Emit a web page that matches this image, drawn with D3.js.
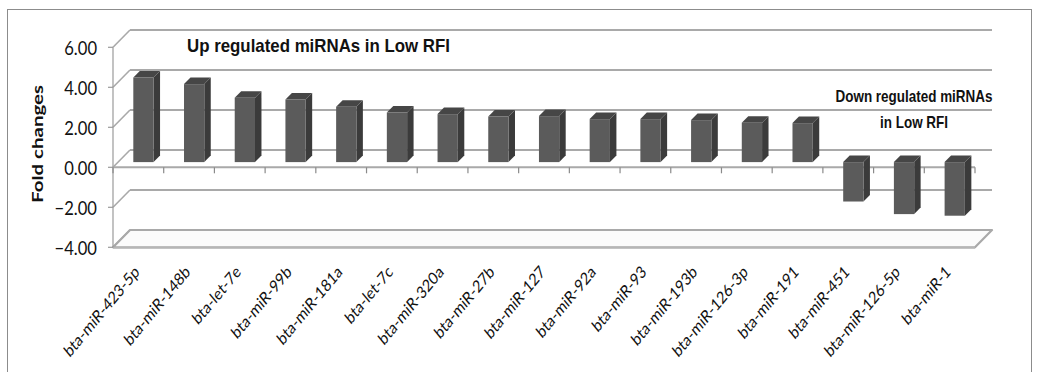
<!DOCTYPE html>
<html>
<head>
<meta charset="utf-8">
<script src="https://cdn.jsdelivr.net/npm/d3@7"></script>
<style>
  body { margin: 0; background: #fff; }
  svg { display: block; }
</style>
</head>
<body>
<svg id="chart" width="1040" height="372"></svg>
<script>
// miRNA fold changes (Low RFI vs High RFI)
const categories = [
  "bta-miR-423-5p", "bta-miR-148b", "bta-let-7e", "bta-miR-99b", "bta-miR-181a",
  "bta-let-7c", "bta-miR-320a", "bta-miR-27b", "bta-miR-127", "bta-miR-92a",
  "bta-miR-93", "bta-miR-193b", "bta-miR-126-3p", "bta-miR-191",
  "bta-miR-451", "bta-miR-126-5p", "bta-miR-1"
];
const foldChanges = [
  4.23, 3.90, 3.22, 3.13, 2.77, 2.48, 2.40, 2.28, 2.30, 2.15,
  2.15, 2.10, 1.97, 1.95, -1.97, -2.60, -2.68
];
const yTicks = [-4, -2, 0, 2, 4, 6];
const yTitle = "Fold changes";
const upTitle = "Up regulated miRNAs  in Low RFI";
const downTitle = ["Down regulated miRNAs", "in Low RFI"];

const svg = d3.select("#chart");
const SX = 0.83;               // horizontal squeeze applied to all text
const DX = 17, DY = -17.3;     // depth offset of the back wall
const F1 = 0.30, F2 = 0.68;    // bar front / back depth fractions
const left = 113, right = 975;

const y = d3.scaleLinear().domain([-4, 6]).range([247.3, 47.3]);
const x = d3.scaleBand().domain(categories).range([left, right])
  .paddingInner(0.6).paddingOuter(0.3);
const step = x.step();

const gridColor = "#a9a9a9";

// chart frame
svg.append("rect")
  .attr("x", 7.5).attr("y", 9.5).attr("width", 1024).attr("height", 400)
  .attr("fill", "none").attr("stroke", "#8c8c8c").attr("stroke-width", 1);

const walls = svg.append("g");

// floor slab
const fy = y(-4);
walls.append("polygon")
  .attr("points", [[left, fy], [right, fy], [right + DX, fy + DY], [left + DX, fy + DY]].join(" "))
  .attr("fill", "#fbfbfb").attr("stroke", gridColor).attr("stroke-width", 2.2)
  .attr("stroke-linejoin", "round");
walls.append("line")
  .attr("x1", left).attr("x2", right).attr("y1", fy + 1).attr("y2", fy + 1)
  .attr("stroke", "#c4c4c4").attr("stroke-width", 1.5);

// back-wall gridlines and side-wall diagonals
yTicks.filter(t => t > -4).forEach(t => {
  walls.append("line")
    .attr("x1", left + DX).attr("x2", right + DX)
    .attr("y1", y(t) + DY).attr("y2", y(t) + DY)
    .attr("stroke", gridColor).attr("stroke-width", 2.2);
});
yTicks.forEach(t => {
  walls.append("line")
    .attr("x1", left).attr("y1", y(t))
    .attr("x2", left + DX).attr("y2", y(t) + DY)
    .attr("stroke", gridColor).attr("stroke-width", 1.6);
});

// vertical value axis
walls.append("line")
  .attr("x1", left).attr("x2", left).attr("y1", y(6)).attr("y2", y(-4))
  .attr("stroke", "#9a9a9a").attr("stroke-width", 1.2);
yTicks.forEach(t => {
  walls.append("line")
    .attr("x1", left - 5).attr("x2", left).attr("y1", y(t)).attr("y2", y(t))
    .attr("stroke", "#9a9a9a").attr("stroke-width", 1.2);
  walls.append("text")
    .attr("transform", `translate(97,${y(t)}) scale(${SX},1)`)
    .attr("dy", "0.36em")
    .attr("text-anchor", "end")
    .attr("font-family", "Lato, 'Open Sans', sans-serif")
    .attr("font-size", 20)
    .attr("fill", "#111")
    .text(d3.format(".2f")(t));
});

// category axis at zero
walls.append("line")
  .attr("x1", left).attr("x2", right).attr("y1", y(0)).attr("y2", y(0))
  .attr("stroke", gridColor).attr("stroke-width", 2);
d3.range(categories.length + 1).forEach(k => {
  walls.append("line")
    .attr("x1", left + k * step).attr("x2", left + k * step)
    .attr("y1", y(0)).attr("y2", y(0) + 6)
    .attr("stroke", "#8a8a8a").attr("stroke-width", 1.2);
});

// 3-D columns
const pt = (px, v, f) => [px + f * DX, y(v) + f * DY];
const bars = svg.append("g");
categories.forEach((name, i) => {
  const v = foldChanges[i];
  const top = Math.max(0, v), bot = Math.min(0, v);
  const x0 = x(name), x1 = x0 + x.bandwidth();
  const g = bars.append("g");
  // side face
  g.append("polygon")
    .attr("points", [pt(x1, top, F1), pt(x1, top, F2), pt(x1, bot, F2), pt(x1, bot, F1)].join(" "))
    .attr("fill", "#3b3b3b");
  // top face
  g.append("polygon")
    .attr("points", [pt(x0, top, F1), pt(x1, top, F1), pt(x1, top, F2), pt(x0, top, F2)].join(" "))
    .attr("fill", "#464646");
  // front face
  const [fx, fyTop] = pt(x0, top, F1);
  const fyBot = pt(x0, bot, F1)[1];
  g.append("rect")
    .attr("x", fx).attr("y", fyTop)
    .attr("width", x.bandwidth()).attr("height", fyBot - fyTop)
    .attr("fill", "#5b5b5b");
});

// category labels
categories.forEach((name, i) => {
  const cx = x(name) + x.bandwidth() / 2;
  svg.append("text")
    .attr("transform", `translate(${cx + 2},273) scale(${SX},1) rotate(-45)`)
    .attr("text-anchor", "end")
    .attr("font-family", "Lato, 'Open Sans', sans-serif")
    .attr("font-size", 17)
    .attr("fill", "#111")
    .text(name);
});

// axis title
svg.append("text")
  .attr("transform", `translate(43,144) scale(${SX},1) rotate(-90)`)
  .attr("text-anchor", "middle")
  .attr("font-family", "Lato, 'Open Sans', sans-serif")
  .attr("font-weight", "bold")
  .attr("font-size", 18)
  .attr("textLength", 118).attr("lengthAdjust", "spacingAndGlyphs")
  .attr("fill", "#111")
  .text(yTitle);

// annotations
svg.append("text")
  .attr("x", 187).attr("y", 51.5)
  .attr("font-family", "'Liberation Sans Narrow', 'Liberation Sans', Arial, sans-serif")
  .attr("font-weight", "bold")
  .attr("font-size", 18.5)
  .attr("textLength", 263).attr("lengthAdjust", "spacingAndGlyphs")
  .attr("fill", "#111")
  .text(upTitle);

const downW = [157, 68];
downTitle.forEach((line, j) => {
  svg.append("text")
    .attr("x", 914).attr("y", 102 + j * 26)
    .attr("text-anchor", "middle")
    .attr("font-family", "'Liberation Sans Narrow', 'Liberation Sans', Arial, sans-serif")
    .attr("font-weight", "bold")
    .attr("font-size", 16.5)
    .attr("textLength", downW[j]).attr("lengthAdjust", "spacingAndGlyphs")
    .attr("fill", "#111")
    .text(line);
});
</script>
</body>
</html>
